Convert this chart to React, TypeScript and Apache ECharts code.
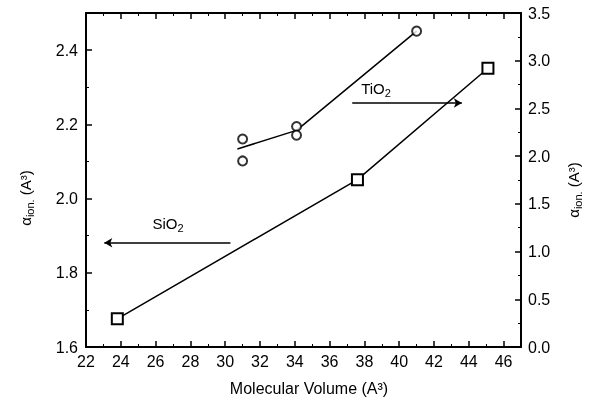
import React, { useEffect, useRef } from "react";
import * as echarts from "echarts";

// SiO2 (left axis, squares)
const siO2Volume = [23.8, 37.6, 45.1];
const siO2Alpha = [1.676, 2.051, 2.351];
// TiO2 (right axis, circles)
const tiO2Volume = [31.0, 31.0, 34.1, 34.1, 41.0];
const tiO2Alpha = [2.18, 1.95, 2.31, 2.22, 3.31];
// TiO2 guide line
const tiO2LineVolume = [30.7, 34.1, 41.0];
const tiO2LineAlpha = [2.075, 2.27, 3.31];
// annotation arrows
const siO2Arrow = { from: 30.3, to: 23.05, y: 1.881 };
const tiO2Arrow = { from: 37.3, to: 43.6, y: 2.557 };
// texts
const xTitle = "Molecular Volume (A³)";
const yTitle = "{a|α}{s|ion.}{t| (A³)}";
const siO2Label = "SiO{s|2}";
const tiO2Label = "TiO{s|2}";

const FONT = "'Liberation Sans', Arial, sans-serif";
const axisLine = () => ({ show: true, onZero: false, lineStyle: { color: "#000", width: 2 } });
const tick = () => ({ show: true, inside: true, length: 6, lineStyle: { color: "#000", width: 1.5 } });
const minor = () => ({ show: true, splitNumber: 2, length: 3, lineStyle: { color: "#000", width: 1 } });
const titleRich = () => ({
  a: { fontSize: 15, fontFamily: FONT, color: "#000" },
  s: { fontSize: 11, fontFamily: FONT, color: "#000", padding: [9, 0, 0, 0] },
  t: { fontSize: 15, fontFamily: FONT, color: "#000" },
});
const subRich = () => ({
  s: { fontSize: 11, fontFamily: FONT, color: "#000", padding: [9, 0, 0, 0] },
});

export default function App() {
  const ref = useRef<HTMLDivElement>(null);
  useEffect(() => {
    if (!ref.current) return;
    const chart = echarts.init(ref.current, undefined, { renderer: "svg" });
    chart.setOption({
      animation: false,
      title: [
        {
          text: siO2Label,
          left: 168,
          top: 213,
          padding: 0,
          textAlign: "center",
          textStyle: { fontSize: 15, fontWeight: "normal", fontFamily: FONT, color: "#000", rich: subRich() },
        },
        {
          text: tiO2Label,
          left: 376,
          top: 78,
          padding: 0,
          textAlign: "center",
          textStyle: { fontSize: 15, fontWeight: "normal", fontFamily: FONT, color: "#000", rich: subRich() },
        },
      ],
      grid: { left: 86, right: 72, top: 13, bottom: 64 },
      xAxis: [
        {
          type: "value",
          position: "bottom",
          min: 22,
          max: 47,
          interval: 2,
          name: xTitle,
          nameLocation: "middle",
          nameGap: 33,
          nameTextStyle: { fontSize: 16, fontFamily: FONT, color: "#000", padding: [0, 0, 0, 11] },
          axisLine: axisLine(),
          axisTick: tick(),
          minorTick: minor(),
          splitLine: { show: false },
          axisLabel: {
            color: "#000",
            fontSize: 16,
            fontFamily: FONT,
            margin: 6,
            showMaxLabel: false,
            formatter: (v: number) => String(v),
          },
        },
        {
          type: "value",
          position: "top",
          min: 22,
          max: 47,
          interval: 2,
          axisLine: axisLine(),
          axisTick: tick(),
          minorTick: minor(),
          splitLine: { show: false },
          axisLabel: { show: false },
        },
      ],
      yAxis: [
        {
          type: "value",
          position: "left",
          min: 1.6,
          max: 2.5,
          interval: 0.2,
          name: yTitle,
          nameLocation: "middle",
          nameRotate: 90,
          nameGap: 51,
          nameTextStyle: { rich: titleRich(), padding: [0, 36, 0, 0] },
          axisLine: axisLine(),
          axisTick: tick(),
          minorTick: minor(),
          splitLine: { show: false },
          axisLabel: {
            color: "#000",
            fontSize: 16,
            fontFamily: FONT,
            margin: 8,
            showMaxLabel: false,
            formatter: (v: number) => v.toFixed(1),
          },
        },
        {
          type: "value",
          position: "right",
          min: 0,
          max: 3.5,
          interval: 0.5,
          name: yTitle,
          nameLocation: "middle",
          nameRotate: 90,
          nameGap: 42,
          nameTextStyle: { rich: titleRich(), padding: [0, 20, 0, 0] },
          axisLine: axisLine(),
          axisTick: tick(),
          minorTick: minor(),
          splitLine: { show: false },
          axisLabel: {
            color: "#000",
            fontSize: 16,
            fontFamily: FONT,
            margin: 7,
            formatter: (v: number) => v.toFixed(1),
          },
        },
      ],
      series: [
        {
          type: "line",
          xAxisIndex: 0,
          yAxisIndex: 0,
          data: siO2Volume.map((x, i) => [x, siO2Alpha[i]]),
          symbol: "rect",
          symbolSize: 11,
          itemStyle: { color: "#fff", borderColor: "#000", borderWidth: 2 },
          lineStyle: { color: "#000", width: 1.5 },
          z: 3,
          markLine: {
            silent: true,
            symbol: ["none", "arrow"],
            symbolSize: [7, 8],
            label: { show: false },
            lineStyle: { color: "#000", width: 1.5, type: "solid" },
            data: [[{ coord: [siO2Arrow.from, siO2Arrow.y] }, { coord: [siO2Arrow.to, siO2Arrow.y] }]],
          },
        },
        {
          type: "line",
          xAxisIndex: 0,
          yAxisIndex: 1,
          data: tiO2LineVolume.map((x, i) => [x, tiO2LineAlpha[i]]),
          showSymbol: false,
          symbol: "none",
          lineStyle: { color: "#000", width: 1.5 },
          z: 2,
          markLine: {
            silent: true,
            symbol: ["none", "arrow"],
            symbolSize: [7, 8],
            label: { show: false },
            lineStyle: { color: "#000", width: 1.5, type: "solid" },
            data: [[{ coord: [tiO2Arrow.from, tiO2Arrow.y] }, { coord: [tiO2Arrow.to, tiO2Arrow.y] }]],
          },
        },
        {
          type: "scatter",
          xAxisIndex: 0,
          yAxisIndex: 1,
          data: tiO2Volume.map((x, i) => [x, tiO2Alpha[i]]),
          symbol: "circle",
          symbolSize: 9,
          itemStyle: { color: "#fff", borderColor: "#000", borderWidth: 2 },
          z: 4,
        },
      ],
    });
    return () => chart.dispose();
  }, []);
  return <div ref={ref} style={{ position: "fixed", left: 0, top: 0, width: 593, height: 411 }} />;
}
